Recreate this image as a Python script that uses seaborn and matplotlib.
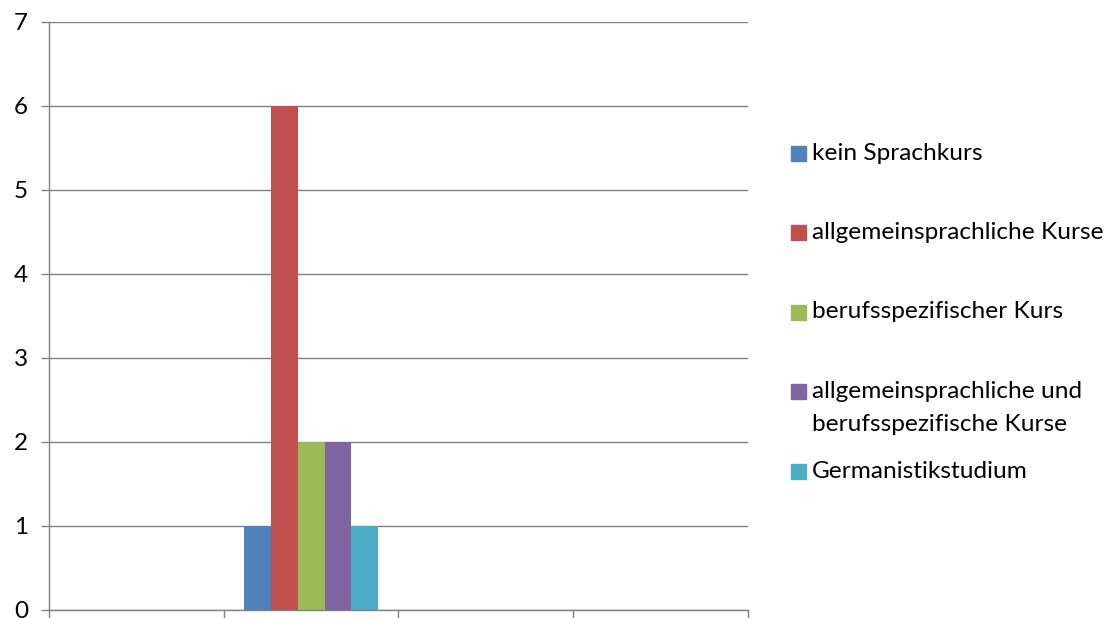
import matplotlib
matplotlib.use("Agg")
import matplotlib.pyplot as plt
import matplotlib.patches as mpatches
import pandas as pd
import seaborn as sns

# Categories on the x axis (only the second one carries data)
categories = ["A", "B", "C", "D"]
series = [
    "kein Sprachkurs",
    "allgemeinsprachliche Kurse",
    "berufsspezifischer Kurs",
    "allgemeinsprachliche und\nberufsspezifische Kurse",
    "Germanistikstudium",
]
values = [1, 6, 2, 2, 1]
colors = ["#4F81BD", "#C0504D", "#9BBB59", "#8064A2", "#4BACC6"]
y_ticks = [0, 1, 2, 3, 4, 5, 6, 7]

df = pd.DataFrame({"Kategorie": ["B"] * len(series), "Kurs": series, "Anzahl": values})

sns.set_theme(style="white")
plt.rcParams["font.family"] = ["Lato", "DejaVu Sans"]

W, H, DPI = 1112, 618, 100
fig = plt.figure(figsize=(W / DPI, H / DPI), dpi=DPI)
ax = fig.add_axes([49 / W, 8 / H, (748 - 49) / W, (610 - 22) / H])

sns.barplot(data=df, x="Kategorie", y="Anzahl", hue="Kurs", order=categories,
            hue_order=series, palette=colors, width=0.77, saturation=1,
            dodge=True, legend=False, ax=ax, linewidth=0)

grid_c = "#808080"
ax.set_xlim(-0.5, len(categories) - 0.5)
ax.set_ylim(0, 7)
ax.set_yticks(y_ticks)
ax.set_yticklabels([str(t) for t in y_ticks], fontsize=17.5, color="black")
ax.set_xticks([i - 0.5 for i in range(len(categories) + 1)])
ax.set_xticklabels([""] * (len(categories) + 1))
ax.set_xlabel("")
ax.set_ylabel("")
ax.grid(axis="y", color=grid_c, linewidth=1.0)
ax.set_axisbelow(True)
ax.tick_params(axis="both", which="both", direction="out", length=6,
               width=1.0, color=grid_c, left=True, bottom=True)
ax.tick_params(axis="y", pad=9)
for side in ["top", "right"]:
    ax.spines[side].set_visible(False)
for side in ["left", "bottom"]:
    ax.spines[side].set_color(grid_c)
    ax.spines[side].set_linewidth(1.0)

# Legend drawn at the right side, marker aligned with the first line of each label
first_y = 153
step = 79.5
line_h = 33
for i, (lab, col) in enumerate(zip(series, colors)):
    yc = first_y + step * i
    fig.patches.append(mpatches.Rectangle(((791) / W, 1 - (yc + 7.5) / H), 15 / W, 15 / H,
                                          transform=fig.transFigure, color=col))
    for j, line in enumerate(lab.split("\n")):
        fig.text(812 / W, 1 - (yc + j * line_h) / H, line, fontsize=17.6,
                 va="center", ha="left", color="black")

fig.savefig("out.png", dpi=DPI)
